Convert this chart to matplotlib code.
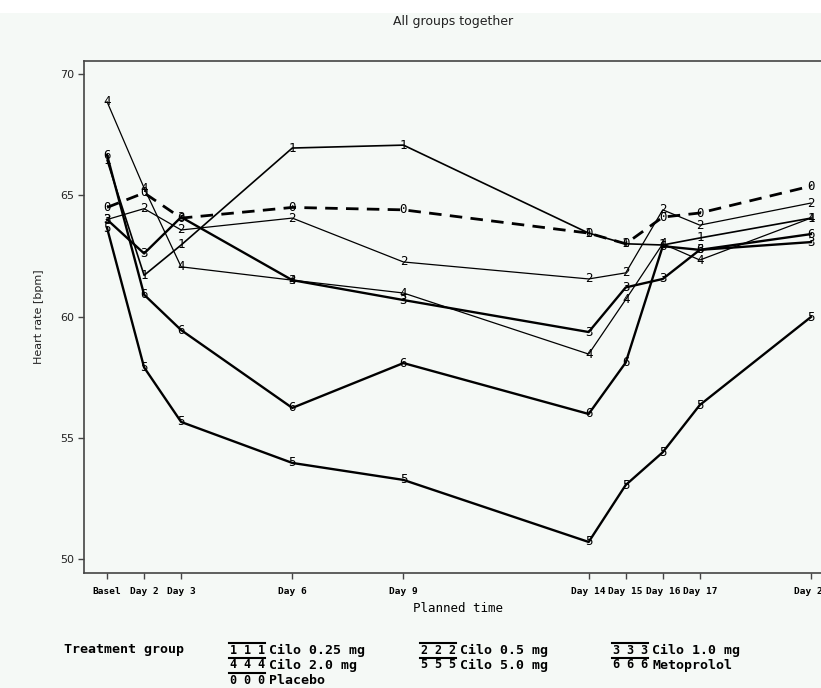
import numpy as np
import matplotlib
matplotlib.use("Agg")
import matplotlib.pyplot as plt
from matplotlib.patches import Rectangle
from matplotlib.lines import Line2D

# =========================
# Data
# =========================
visit_days = [1, 2, 3, 6, 9, 14, 15, 16, 17, 20]
visit_labels = ["Basel", "Day 2", "Day 3", "Day 6", "Day 9",
                "Day 14", "Day 15", "Day 16", "Day 17", "Day 20"]

cilo_025 = [66.45, 61.7, 62.95, 66.95, 67.07, 63.44, 63.0, 62.95, 63.24, 64.06]
cilo_05 = [64.0, 64.45, 63.57, 64.06, 62.25, 61.55, 61.8, 64.4, 63.77, 64.68]
cilo_10 = [64.0, 62.6, 64.1, 61.5, 60.68, 59.36, 61.2, 61.55, 62.75, 63.07]
cilo_20 = [68.86, 65.3, 62.05, 61.5, 60.97, 58.45, 60.7, 63.0, 62.33, 64.06]
cilo_50 = [63.65, 57.9, 55.65, 53.96, 53.26, 50.7, 53.05, 54.4, 56.35, 59.98]
metoprolol = [66.66, 60.9, 59.44, 56.23, 58.08, 55.98, 58.1, 62.9, 62.75, 63.4]
placebo = [64.5, 65.1, 64.06, 64.5, 64.4, 63.44, 63.0, 64.1, 64.27, 65.38]

groups = ["Cilo 0.25 mg", "Cilo 0.5 mg", "Cilo 1.0 mg", "Cilo 2.0 mg",
          "Cilo 5.0 mg", "Metoprolol", "Placebo"]
symbols = ["1", "2", "3", "4", "5", "6", "0"]
series = [cilo_025, cilo_05, cilo_10, cilo_20, cilo_50, metoprolol, placebo]

widths = [1.2, 0.9, 1.7, 0.9, 1.7, 1.7, 2.0]
styles = ["-", "-", "-", "-", "-", "-", "--"]

bg = "#f5f9f6"
mono = "DejaVu Sans Mono"

fig = plt.figure(figsize=(8.21, 6.88), dpi=100, facecolor=bg)
# white strip on top
fig.patches.append(Rectangle((0, 1 - 13 / 688), 1, 13 / 688, transform=fig.transFigure,
                             facecolor="white", edgecolor="none", zorder=0))

ax = fig.add_axes([84 / 821, 1 - 573 / 688, 750 / 821, 512 / 688])
ax.set_facecolor(bg)

for vals, sym, lw, ls in zip(series, symbols, widths, styles):
    line, = ax.plot(visit_days, vals, color="black", lw=lw, ls=ls, zorder=2)
    if ls == "--":
        line.set_dashes((4.5, 3))
    for d, v in zip(visit_days, vals):
        ax.text(d, v, sym, ha="center", va="center", fontsize=9,
                family=mono, color="black", zorder=3)

ax.set_xlim(1 - 23 / 36.95, 20 + 23 / 36.95)
ax.set_ylim(49.42, 70.54)

ax.set_xticks(visit_days)
ax.set_xticklabels(visit_labels, family=mono, fontsize=6.8, fontweight="bold")
ax.set_yticks([50, 55, 60, 65, 70])
ax.set_yticklabels(["50", "55", "60", "65", "70"], fontsize=8, color="#222222")

ax.tick_params(direction="out", length=4, width=1, color="#444444", pad=3)
ax.tick_params(axis="x", pad=6)
for s in ax.spines.values():
    s.set_color("#444444")
    s.set_linewidth(1.2)

ax.set_ylabel("Heart rate [bpm]", fontsize=8, color="#222222")
ax.yaxis.set_label_coords(-40 / 750, 0.5)

fig.text(453 / 821, 1 - 22 / 688, "All groups together", ha="center", va="center",
         fontsize=9, color="#222222")
fig.text(458 / 821, 1 - 609 / 688, "Planned time", ha="center", va="center",
         family=mono, fontsize=9, color="black")

# =========================
# Legend drawn below the plot
# =========================
fig.text(64 / 821, 1 - 650 / 688, "Treatment group", ha="left", va="center",
         family=mono, fontsize=9.5, fontweight="bold")

legend_cols = [229, 420, 612]
legend_rows = [650, 665, 680]
for k, (name, sym, ls) in enumerate(zip(groups, symbols, styles)):
    r, c = divmod(k, 3)
    x0 = legend_cols[c]
    yc = legend_rows[r]
    ln = Line2D([x0 / 821, (x0 + 36) / 821],
                [1 - (yc - 7) / 688, 1 - (yc - 7) / 688],
                transform=fig.transFigure, color="black", lw=1.5)
    fig.lines.append(ln)
    for j in range(3):
        fig.text((x0 + 4 + 14 * j) / 821, 1 - yc / 688, sym, ha="center", va="center",
                 family=mono, fontsize=8.5, fontweight="bold")
    fig.text((x0 + 40) / 821, 1 - yc / 688, name, ha="left", va="center",
             family=mono, fontsize=9.5, fontweight="bold")

fig.savefig("out.png", dpi=100, facecolor=bg)
